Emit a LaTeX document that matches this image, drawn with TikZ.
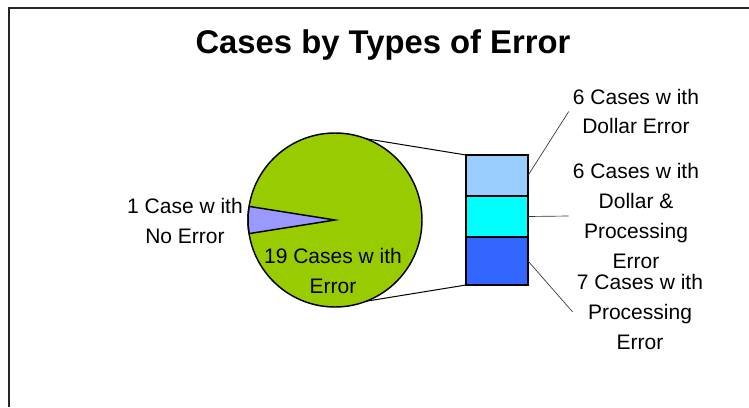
\documentclass[tikz,border=0pt]{standalone}
\usepackage{fontspec}
\setmainfont{Liberation Sans}
\usetikzlibrary{positioning}
\definecolor{pgreen}{HTML}{99CC00}
\definecolor{pviolet}{HTML}{9999FF}
\definecolor{bsky}{HTML}{99CCFF}
\definecolor{bcyan}{HTML}{00FFFF}
\definecolor{bblue}{HTML}{3366FF}
\tikzset{lbl/.style = {align=center, inner sep=3pt, font=\fontsize{15.75}{22.3}\selectfont}}
\tikzset{seg/.style = {draw, line width=1.1pt, minimum width=46.5pt, inner sep=0, outer sep=0}}
\tikzset{leader/.style = {line width=0.5pt, black!80}}

\begin{document}
\begin{tikzpicture}[x=0.75pt, y=-0.75pt]
  \useasboundingbox (0, 0) rectangle (749, 407);
  \draw [line width=1.1pt, black!85] (9, 407) -- (9, 8) -- (749, 8);

  \node [font=\fontsize{24.6}{28}\selectfont\bfseries] (title) at (383, 45) {Cases by Types of Error};

  % pie, with the small slice pulled out on the left
  \coordinate (pie) at (335, 220);
  \fill [pgreen] (pie) circle (87);
  \filldraw [fill=pviolet, line width=1.1pt] (pie) -- +(171:87) arc (171:189:87) -- cycle;
  \draw [line width=1.1pt] (pie) circle (87);
  \path (pie) ++(-69:87) coordinate (pieTop);
  \path (pie) ++(69:87) coordinate (pieBot);

  % stacked bar for the 19 cases
  \node [seg, fill=bsky, minimum height=30.75pt] (dollar) at (497, 175.5) {};
  \node [seg, fill=bcyan, minimum height=30.75pt, below=0pt of dollar] (both) {};
  \node [seg, fill=bblue, minimum height=36pt, below=0pt of both] (proc) {};

  \draw [line width=0.75pt] (pieTop) -- (dollar.north west);
  \draw [line width=0.75pt] (pieBot) -- (proc.south west);

  \node [lbl] (noerr) at (185, 221) {1 Case w ith\\No Error};
  \node [lbl] (err) at (333, 271) {19 Cases w ith\\Error};

  \node [lbl] (dollarLbl) at (636, 111.5) {6 Cases w ith\\Dollar Error};
  \node [lbl] (bothLbl) at (636, 216) {6 Cases w ith\\Dollar \&\\Processing\\Error};
  \node [lbl] (procLbl) at (640, 312) {7 Cases w ith\\Processing\\Error};

  \draw [leader] (dollar.east) -- (dollarLbl.west);
  \draw [leader] (both.east) -- (bothLbl.west);
  \draw [leader] (proc.east) -- (procLbl.west);
\end{tikzpicture}
\end{document}
